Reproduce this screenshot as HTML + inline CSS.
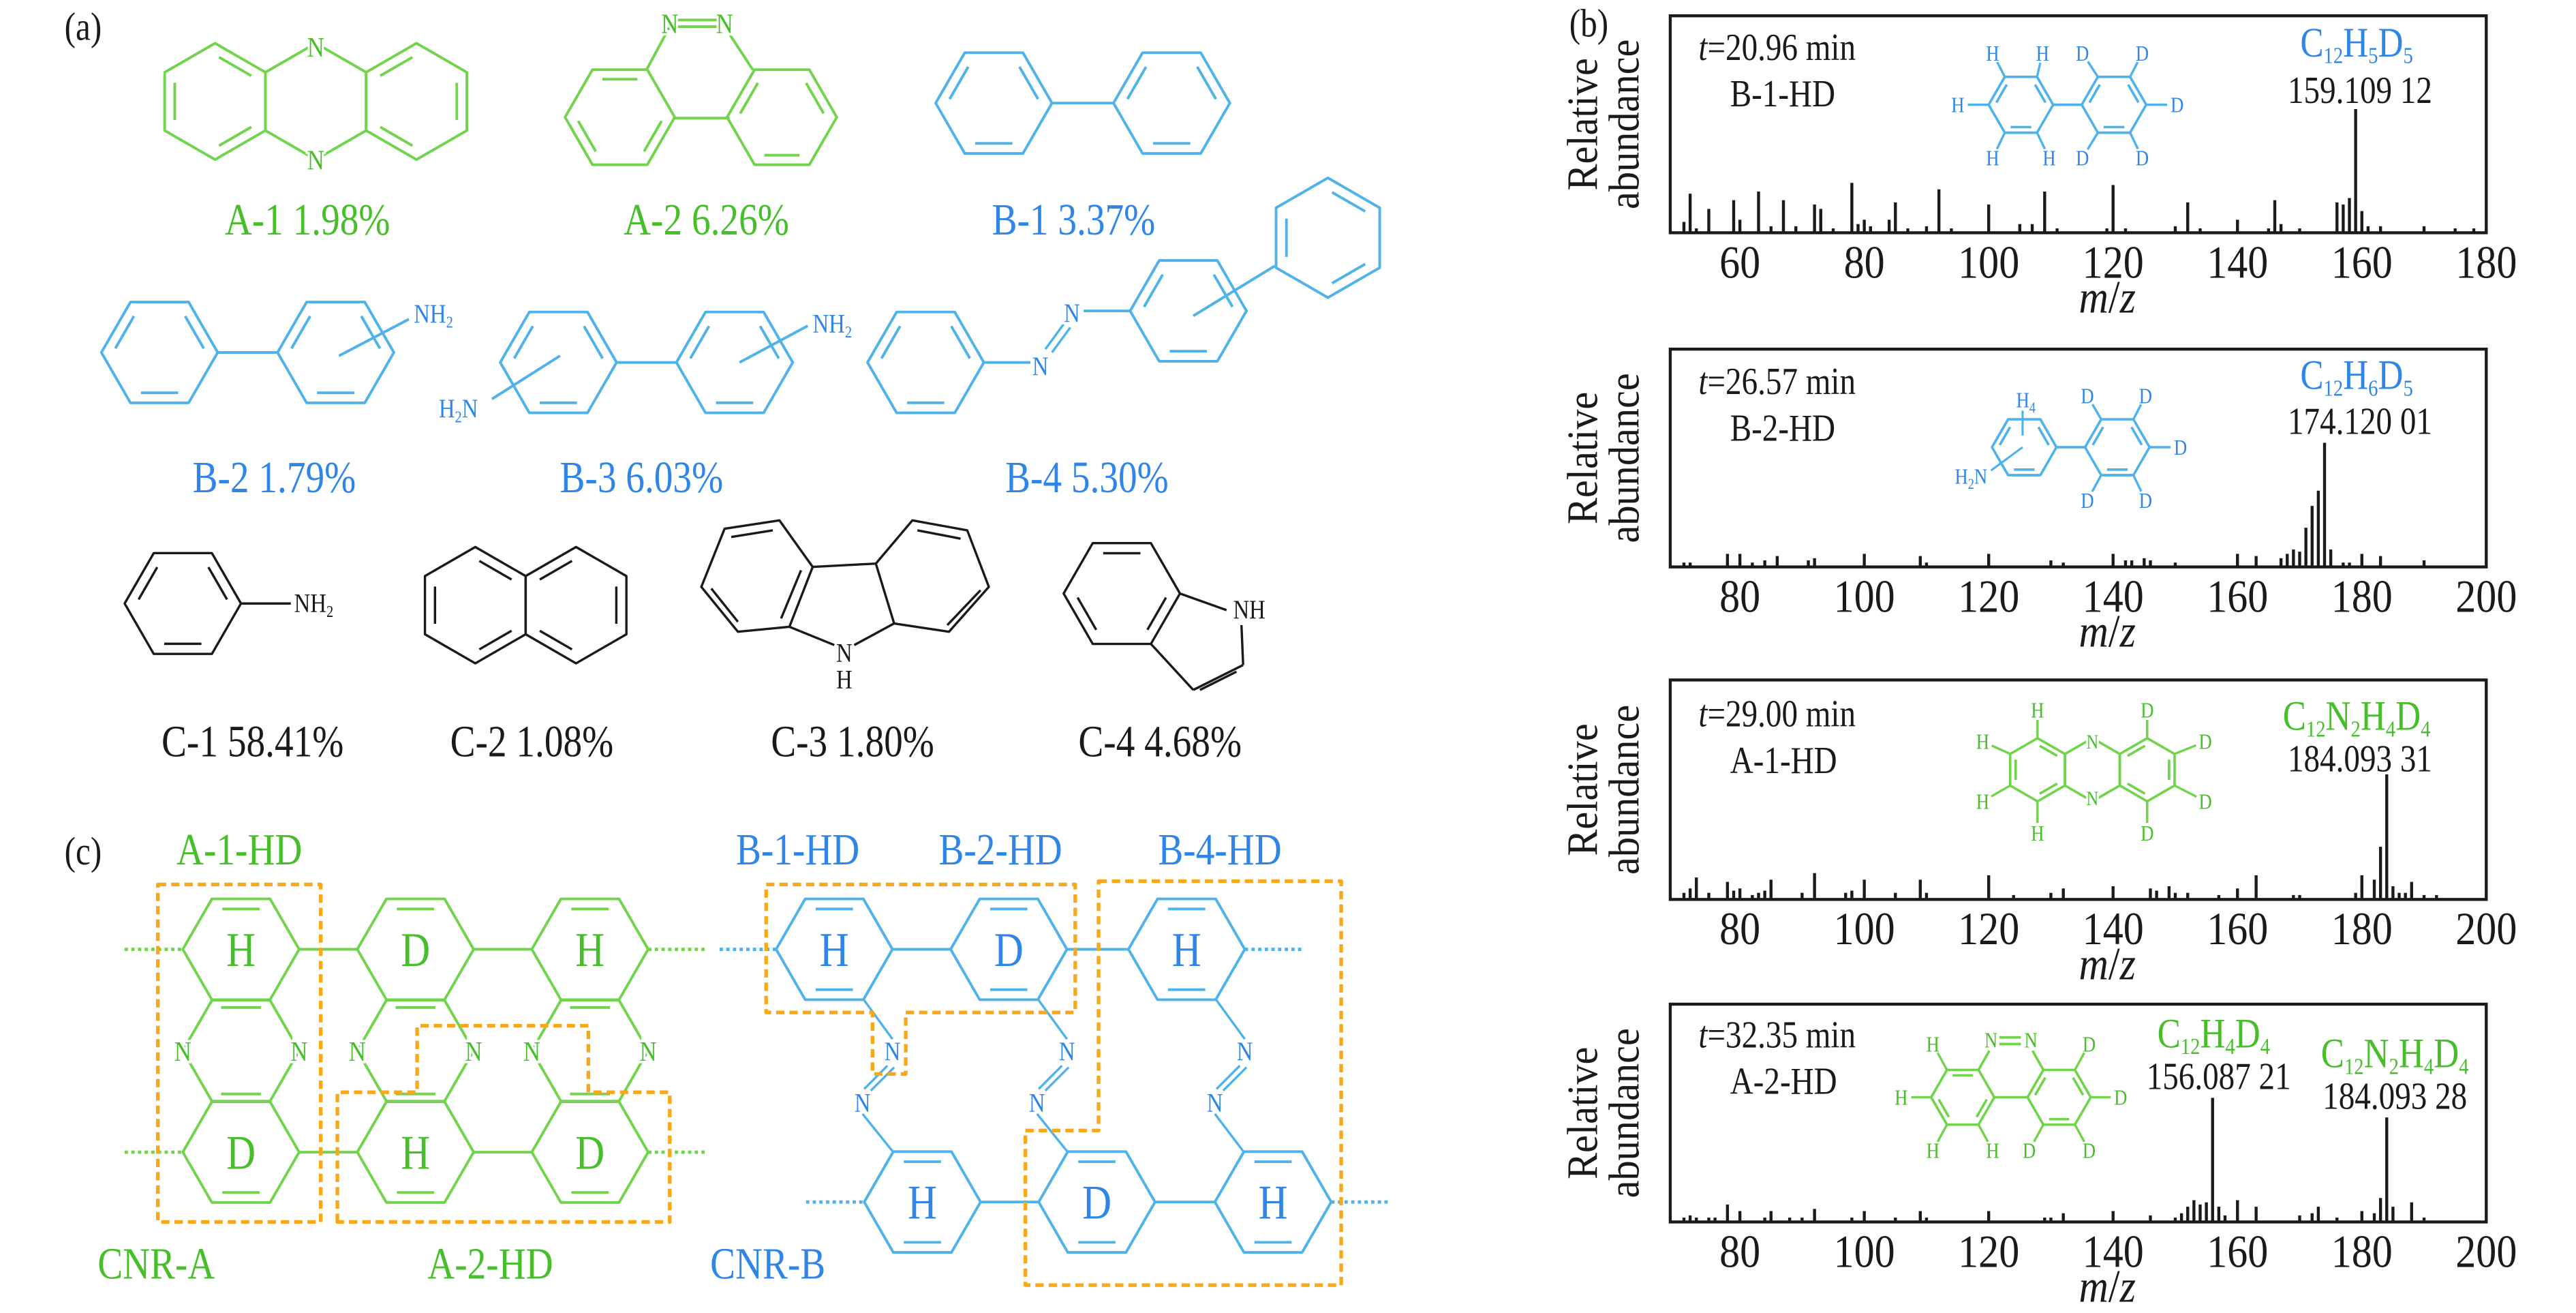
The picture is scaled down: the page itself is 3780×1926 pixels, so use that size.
<!DOCTYPE html>
<html><head><meta charset="utf-8">
<style>
html,body{margin:0;padding:0;background:#fff;}
svg{display:block;}
text{font-family:"Liberation Serif",serif;}
polygon,polyline{fill:none;stroke-linejoin:round;}
line{stroke-linecap:butt;}
</style></head>
<body>
<svg id="fig" xmlns="http://www.w3.org/2000/svg" width="3780" height="1926" viewBox="0 0 1550 789.76" preserveAspectRatio="none"></svg>
<script>
// ---------- spectra data ----------
const mz1 = [51,52,53,55,59,60,63,65,67,69,72,73,75,78,79,80,81,84,85,87,90,92,94,100,105,107,109,111,119,120,122,130,132,134,140,145,146,147,150,156,157,158,159,160,161,163,170,175,178];
const ab1 = [0.05,0.18,0.02,0.11,0.15,0.06,0.19,0.03,0.15,0.03,0.13,0.11,0.02,0.23,0.04,0.06,0.03,0.06,0.14,0.02,0.03,0.20,0.02,0.13,0.04,0.04,0.19,0.02,0.02,0.22,0.02,0.03,0.14,0.02,0.06,0.02,0.15,0.04,0.02,0.14,0.13,0.16,0.57,0.10,0.03,0.03,0.03,0.02,0.02];
const mz2 = [71,72,78,80,82,84,86,91,92,100,109,110,120,130,132,140,142,143,145,146,150,160,163,167,168,169,170,171,172,173,174,175,177,178,180,183,190];
const ab2 = [0.02,0.02,0.06,0.06,0.02,0.03,0.05,0.03,0.04,0.06,0.05,0.02,0.06,0.03,0.02,0.06,0.03,0.03,0.04,0.03,0.02,0.06,0.05,0.04,0.06,0.08,0.07,0.18,0.28,0.35,0.57,0.08,0.02,0.02,0.06,0.05,0.03];
const mz3 = [71,72,73,75,78,79,80,82,83,84,85,90,92,97,98,100,105,109,110,120,124,130,132,140,146,147,149,150,152,157,160,163,169,170,179,180,182,183,184,185,186,187,188,190,192];
const ab3 = [0.03,0.05,0.10,0.03,0.08,0.04,0.05,0.02,0.03,0.04,0.09,0.03,0.12,0.03,0.04,0.09,0.03,0.09,0.03,0.11,0.02,0.03,0.05,0.06,0.05,0.04,0.06,0.03,0.03,0.02,0.05,0.11,0.02,0.02,0.03,0.11,0.09,0.24,0.57,0.06,0.03,0.03,0.08,0.02,0.02];
const mz4 = [71,72,73,75,76,78,80,84,85,88,90,92,98,100,105,109,110,120,129,130,132,140,146,150,151,152,153,154,155,156,157,158,160,163,170,172,173,176,180,182,183,184,185,188,190];
const ab4 = [0.02,0.03,0.02,0.02,0.02,0.08,0.05,0.02,0.05,0.02,0.02,0.06,0.02,0.05,0.02,0.05,0.02,0.05,0.02,0.02,0.04,0.05,0.03,0.02,0.04,0.07,0.10,0.08,0.09,0.57,0.07,0.03,0.10,0.07,0.03,0.04,0.07,0.02,0.05,0.04,0.11,0.48,0.07,0.09,0.02];
const ticks1 = [60,80,100,120,140,160,180];
const ticks2 = [80,100,120,140,160,180,200];

const NS = "http://www.w3.org/2000/svg";
const svg = document.getElementById('fig');
function mk(tag, attrs, parent){
  const e = document.createElementNS(NS, tag);
  for (const k in attrs) e.setAttribute(k, attrs[k]);
  (parent || svg).appendChild(e);
  return e;
}
const GL = "#72d44c", GT = "#47bf2b", BL = "#4fb2e8", BT = "#2f86e6", OR = "#f7a81b", BK = "#1a1a1a";
const SX = 0.84;

function txt(x, y, s, size, color, anchor, name, extra, sx){
  const a = Object.assign({'font-size':size, fill:color, 'text-anchor':anchor||'start'}, extra||{});
  if (!a.transform){ a.transform='translate('+x+','+y+') scale('+(sx||SX)+',1)'; }
  a.x=0; a.y=0;
  const t = mk('text', a);
  t.innerHTML = s;
  
  
  return t;
}
function line(x1,y1,x2,y2,color,w,name,dash){
  const l = mk('line',{x1:x1,y1:y1,x2:x2,y2:y2,stroke:color,'stroke-width':w||1.6});
  if (dash) l.setAttribute('stroke-dasharray', dash);
  
  
  return l;
}
function ringPts(cx,cy,r,flat){
  const p=[];
  for(let k=0;k<6;k++){const a=(flat?0:30)+k*60; p.push([cx+r*Math.cos(a*Math.PI/180), cy+r*Math.sin(a*Math.PI/180)]);}
  return p;
}
function ring(cx,cy,r,flat,color,dbl,name,w){
  const p = ringPts(cx,cy,r,flat);
  const g = mk('polygon',{points:p.map(q=>q.join(',')).join(' '),fill:'none',stroke:color,'stroke-width':w||1.6});
  
  
  (dbl||[]).forEach(i=>{
    const a=p[i], b=p[(i+1)%6];
    const ia=[cx+(a[0]-cx)*0.8, cy+(a[1]-cy)*0.8], ib=[cx+(b[0]-cx)*0.8, cy+(b[1]-cy)*0.8];
    const dx=ib[0]-ia[0], dy=ib[1]-ia[1];
    line(ia[0]+dx*0.1, ia[1]+dy*0.1, ib[0]-dx*0.1, ib[1]-dy*0.1, color, (w||1.6), 'double-bond');
  });
  return p;
}
function poly(pts,color,name,closed,dash,w){
  const e = mk(closed?'polygon':'polyline',{points:pts.map(q=>q.join(',')).join(' '),fill:'none',stroke:color,'stroke-width':w||1.6});
  if(dash) e.setAttribute('stroke-dasharray',dash);
  
  
  return e;
}
function atom(x,y,s,size,color,name){
  return txt(x,y+size*0.35,s,size,color,'middle',name||'atom-label',{stroke:'#fff','stroke-width':3,'paint-order':'stroke',transform:'translate('+x+','+(y+size*0.35)+') scale('+SX+',1)'});
}
// chemical formula: alternating [element, subscript, element, subscript...]
function chem(parts,f,d){
  let s='';
  for(let i=0;i<parts.length;i+=2){
    s += '<tspan dy="'+(i?-(d||4):0)+'">'+parts[i]+'</tspan>';
    if(parts[i+1]) s += '<tspan font-size="'+(f||14)+'" dy="'+(d||4)+'">'+parts[i+1]+'</tspan>';
    else s += '<tspan dy="'+(d||4)+'"></tspan>';
  }
  return s;
}

// ---------- panel (a) ----------
txt(50,24,'(a)',24,BK,'middle','panel-label-a');
{const r=35; const c=[129.4,190,250.6];
 ring(c[0],61,r,false,GL,[0,2,4],'a1-ring-left');
 ring(c[1],61,r,false,GL,[],'a1-ring-middle');
 ring(c[2],61,r,false,GL,[1,3,5],'a1-ring-right');
 atom(190,28,'N',17,GT,'a1-n-top'); atom(190,96,'N',17,GT,'a1-n-bottom');}
txt(185,141,'A-1 1.98%',27,GT,'middle','label-a1');
ring(373,70.5,33,true,GL,[0,2,4],'a2-ring-left');
ring(470.5,70.5,33,true,GL,[1,3,5],'a2-ring-right');
poly([[389,42],[403,16]],GL,'a2-bond');
poly([[453,42],[436,16]],GL,'a2-bond');
line(407,12,432,12,GL,1.6,'a2-nn-bond'); line(407,16,432,16,GL,1.6,'a2-nn-bond');
line(406,71,439,71,GL,1.6,'a2-bond');
atom(403,14,'N',17,GT,'a2-n1'); atom(436,14,'N',17,GT,'a2-n2');
txt(425,141,'A-2 6.26%',27,GT,'middle','label-a2');
ring(598,62,35,true,BL,[1,3,5],'b1-ring-left'); ring(705,62,35,true,BL,[1,3,5],'b1-ring-right');
line(633,62,670,62,BL,1.6,'b1-bond');
txt(646,141,'B-1 3.37%',27,BT,'middle','label-b1');
ring(96,212,35,true,BL,[1,3,5],'b2-ring-left'); ring(202,212,35,true,BL,[1,3,5],'b2-ring-right');
line(131,212,167,212,BL,1.6,'b2-bond'); line(204,214,246,192,BL,1.6,'b2-nh2-bond');
txt(249,194,chem(['NH','2'],10,3),16,BT,'start','b2-nh2');
txt(165,296,'B-2 1.79%',27,BT,'middle','label-b2');
ring(336,218,35,true,BL,[1,3,5],'b3-ring-left'); ring(442,218,35,true,BL,[1,3,5],'b3-ring-right');
line(371,218,407,218,BL,1.6,'b3-bond'); line(445,218,486,196,BL,1.6,'b3-nh2-bond'); line(337,214,296,240,BL,1.6,'b3-nh2-bond');
txt(489,200,chem(['NH','2'],10,3),16,BT,'start','b3-nh2-right');
txt(264,251,chem(['H','2','N',''],10,3),16,BT,'start','b3-nh2-left');
txt(386,296,'B-3 6.03%',27,BT,'middle','label-b3');
ring(557,218,35,true,BL,[1,3,5],'b4-ring-left');
ring(715,187,35,true,BL,[1,3,5],'b4-ring-middle');
ring(799,143,36,false,BL,[0,2,4],'b4-ring-right');
line(592,218,620,218,BL,1.6,'b4-bond'); line(652,187,680,187,BL,1.6,'b4-bond');
line(629,210,640,195,BL,1.4,'b4-nn-bond'); line(633,212,644,197,BL,1.4,'b4-nn-bond');
line(718,190,767,160,BL,1.6,'b4-bond');
atom(626,220,'N',16,BT,'b4-n1'); atom(645,188,'N',16,BT,'b4-n2');
txt(654,296,'B-4 5.30%',27,BT,'middle','label-b4');
ring(110,363,35,true,BK,[1,3,5],'c1-ring',1.4); line(145,363,175,363,BK,1.4,'c1-nh2-bond');
txt(177,368,chem(['NH','2'],10,3),16,BK,'start','c1-nh2');
txt(152,455,'C-1 58.41%',27,BK,'middle','label-c1');
ring(286,364,35,false,BK,[0,2,4],'c2-ring-left',1.4); ring(346.6,364,35,false,BK,[1,3,5],'c2-ring-right',1.4);
txt(320,455,'C-2 1.08%',27,BK,'middle','label-c2');
poly([[436,318],[469,313],[489,341],[475,377],[444,380],[422,353]],BK,'c3-ring-left',true,null,1.4);
poly([[549,313],[582,319],[595,353],[571,380],[538,375],[527,339]],BK,'c3-ring-right',true,null,1.4);
line(489,341,527,339,BK,1.4,'c3-bond');
line(538,375,514,388,BK,1.4,'c3-bond'); line(475,377,502,388,BK,1.4,'c3-bond');
line(440,323,465,319,BK,1.4,'double-bond'); line(428,354,444,374,BK,1.4,'double-bond'); line(482,343,470,372,BK,1.4,'double-bond');
line(552,319,578,324,BK,1.4,'double-bond'); line(590,355,570,376,BK,1.4,'double-bond');
txt(508,398,'N',16,BK,'middle','c3-n'); txt(508,414,'H',16,BK,'middle','c3-h');
txt(513,455,'C-3 1.80%',27,BK,'middle','label-c3');
ring(675,357,35,true,BK,[0,2,4],'c4-ring',1.4);
line(710,357,738,367,BK,1.4,'c4-bond');
line(747,376,748,400,BK,1.4,'c4-bond'); line(748,400,718,415,BK,1.4,'c4-bond'); line(718,415,692.5,387.3,BK,1.4,'c4-bond');
line(744,404,722,415,BK,1.4,'double-bond');
txt(742,372,'NH',16,BK,'start','c4-nh');
txt(698,455,'C-4 4.68%',27,BK,'middle','label-c4');

// ---------- panel (c) ----------
txt(50,520,'(c)',24,BK,'middle','panel-label-c');
txt(144,520,'A-1-HD',27,GT,'middle','label-a1-hd');
txt(480,520,'B-1-HD',27,BT,'middle','label-b1-hd');
txt(602,520,'B-2-HD',27,BT,'middle','label-b2-hd');
txt(734,520,'B-4-HD',27,BT,'middle','label-b4-hd');
txt(94,769,'CNR-A',27,GT,'middle','label-cnr-a');
txt(295,769,'A-2-HD',27,GT,'middle','label-a2-hd');
txt(462,769,'CNR-B',27,BT,'middle','label-cnr-b');
{const cols=[145,250,355], ys=[571,632,693], up=['H','D','H'], lo=['D','H','D'];
 cols.forEach((x,i)=>{
   ring(x,ys[0],35,true,GL,[4],'cnr-a-ring-top');
   ring(x,ys[1],35,true,GL,[],'cnr-a-ring-mid');
   ring(x,ys[2],35,true,GL,[1],'cnr-a-ring-bottom');
   line(x-12,606,x+12,606,GL,1.6,'double-bond'); line(x-12,658,x+12,658,GL,1.6,'double-bond');
   atom(x-35,ys[1],'N',17,GT,'cnr-a-n'); atom(x+35,ys[1],'N',17,GT,'cnr-a-n');
   txt(x,ys[0]+10,up[i],29,GT,'middle','ring-label');
   txt(x,ys[2]+10,lo[i],29,GT,'middle','ring-label');
 });
 [[180,215],[285,320]].forEach(b=>{line(b[0],571,b[1],571,GL,1.6,'cnr-a-bond');line(b[0],693,b[1],693,GL,1.6,'cnr-a-bond');});
 [[75,110],[390,425]].forEach(b=>{line(b[0],571,b[1],571,GL,2,'dotted-extension','2 2');line(b[0],693,b[1],693,GL,2,'dotted-extension','2 2');});
}
{const up=[502,607,714], lo=[555,660,766], ul=['H','D','H'], ll=['H','D','H'];
 up.forEach((x,i)=>{
   ring(x,571,35,true,BL,[1,4],'cnr-b-ring-top'); txt(x,581,ul[i],29,BT,'middle','ring-label');
   ring(lo[i],723,35,true,BL,[1,4],'cnr-b-ring-bottom'); txt(lo[i],733,ll[i],29,BT,'middle','ring-label');
   const n1x=x+35, n2x=x+17;
   line(x+17.5,601,n1x,625,BL,1.4,'azo-bond');
   line(n1x-3,641,n2x+1,655,BL,1.4,'azo-bond'); line(n1x+1,642,n2x+5,656,BL,1.4,'azo-bond');
   line(n2x,670,lo[i]-17.5,693,BL,1.4,'azo-bond');
   atom(n1x,632,'N',16,BT,'azo-n'); atom(n2x,663,'N',16,BT,'azo-n');
 });
 line(537,571,572,571,BL,1.6,'cnr-b-bond'); line(642,571,679,571,BL,1.6,'cnr-b-bond');
 line(590,723,625,723,BL,1.6,'cnr-b-bond'); line(695,723,731,723,BL,1.6,'cnr-b-bond');
 line(433,571,467,571,BL,2,'dotted-extension','2 2'); line(749,571,783,571,BL,2,'dotted-extension','2 2');
 line(485,723,520,723,BL,2,'dotted-extension','2 2'); line(801,723,835,723,BL,2,'dotted-extension','2 2');
}
const dash='5 3';
poly([[95,532],[193,532],[193,735],[95,735]],OR,'box-a1-hd',true,dash,2.2);
poly([[203,735],[203,657],[251,657],[251,617],[354,617],[354,657],[403,657],[403,735]],OR,'box-a2-hd',true,dash,2.2);
poly([[461,532],[647,532],[647,609],[545,609],[545,646],[525,646],[525,609],[461,609]],OR,'box-b1-b2-hd',true,dash,2.2);
poly([[661,530],[807,530],[807,773],[617,773],[617,680],[661,680]],OR,'box-b4-hd',true,dash,2.2);

// ---------- panel (b) spectra ----------
txt(956,22,'(b)',24,BK,'middle','panel-label-b');
const X0=1005, X1=1496;
const panels=[
 {top:9.5,bot:140,lo:48.8,hi:180,mz:mz1,ab:ab1,ticks:ticks1,name:'b1'},
 {top:210,bot:341,lo:68.8,hi:200,mz:mz2,ab:ab2,ticks:ticks2,name:'b2'},
 {top:409,bot:541,lo:68.8,hi:200,mz:mz3,ab:ab3,ticks:ticks2,name:'a1'},
 {top:604,bot:735,lo:68.8,hi:200,mz:mz4,ab:ab4,ticks:ticks2,name:'a2'}];
panels.forEach(P=>{
  const xs = v => X0 + (v-P.lo)/(P.hi-P.lo)*(X1-X0);
  const ys = v => P.bot - v*(P.bot-P.top);
  for(let i=0;i<P.mz.length;i++){
    const b = mk('line',{x1:xs(P.mz[i]),x2:xs(P.mz[i]),y1:P.bot,y2:ys(P.ab[i]),stroke:BK,'stroke-width':1.8});
    
    
  }
  const fr = mk('rect',{x:X0,y:P.top,width:X1-X0,height:P.bot-P.top,fill:'none',stroke:BK,'stroke-width':1.8});
  
  
  P.ticks.forEach(t=>{ txt(xs(t),P.bot+27,String(t),28,BK,'middle','x-tick-label',null,0.88); });
  txt(1268,P.bot+48,'<tspan font-style="italic">m</tspan>/<tspan font-style="italic">z</tspan>',28,BK,'middle','x-axis-title',null,0.88);
  const cy=(P.top+P.bot)/2;
  txt(0,0,'Relative',26,BK,'middle','y-axis-title',{transform:'translate(961,'+cy+') rotate(-90) scale(0.92,1)'});
  txt(0,0,'abundance',26,BK,'middle','y-axis-title',{transform:'translate(986,'+cy+') rotate(-90) scale(0.92,1)'});
});
txt(1022,36,'<tspan font-style="italic">t</tspan>=20.96 min',23,BK,'start','retention-time-b1');
txt(1041,64,'B-1-HD',23,BK,'start','compound-b1-hd');
txt(1418,34,chem(['C','12','H','5','D','5']),25,BT,'middle','formula-b1');
txt(1420,62,'159.109 12',23,BK,'middle','mass-b1');
txt(1022,237,'<tspan font-style="italic">t</tspan>=26.57 min',23,BK,'start','retention-time-b2');
txt(1041,265,'B-2-HD',23,BK,'start','compound-b2-hd');
txt(1418,234,chem(['C','12','H','6','D','5']),25,BT,'middle','formula-b2');
txt(1420,261,'174.120 01',23,BK,'middle','mass-b2');
txt(1022,437,'<tspan font-style="italic">t</tspan>=29.00 min',23,BK,'start','retention-time-a1');
txt(1041,465,'A-1-HD',23,BK,'start','compound-a1-hd');
txt(1418,439,chem(['C','12','N','2','H','4','D','4']),25,GT,'middle','formula-a1');
txt(1420,464,'184.093 31',23,BK,'middle','mass-a1');
txt(1022,630,'<tspan font-style="italic">t</tspan>=32.35 min',23,BK,'start','retention-time-a2');
txt(1041,658,'A-2-HD',23,BK,'start','compound-a2-hd');
txt(1332,630,chem(['C','12','H','4','D','4']),25,GT,'middle','formula-a2-fragment');
txt(1335,655,'156.087 21',23,BK,'middle','mass-a2-fragment');
txt(1441,642,chem(['C','12','N','2','H','4','D','4']),25,GT,'middle','formula-a2');
txt(1441,667,'184.093 28',23,BK,'middle','mass-a2');

// structures in spectra (labels with stub bonds from nearest ring vertex)
function lab(list,color,lcolor,rings){
  list.forEach(a=>{
    let best=null, bd=1e9;
    rings.forEach(R=>R.forEach(v=>{const d=(v[0]-a[0])**2+(v[1]-a[1])**2; if(d<bd){bd=d;best=v;}}));
    if(best && Math.sqrt(bd)>8){
      const f=1-6/Math.sqrt(bd);
      line(best[0],best[1],best[0]+(a[0]-best[0])*f,best[1]+(a[1]-best[1])*f,lcolor,1.4,'isotope-bond');
    }
    txt(a[0],a[1]+4.5,a[2],13,color,'middle','isotope-label');
  });
}
{const r1=ring(1216,63,19.4,true,BL,[1,3,5],'b1-hd-ring-h',1.5), r2=ring(1272,63,19.4,true,BL,[1,3,5],'b1-hd-ring-d',1.5);
 line(1235.4,63,1252.6,63,BL,1.5,'bond');
 lab([[1199,32,'H'],[1229,32,'H'],[1253,32,'D'],[1289,32,'D'],[1178,63,'H'],[1310,63,'D'],[1199,95,'H'],[1233,95,'H'],[1253,95,'D'],[1289,95,'D']],BT,BL,[r1,r2]);}
{const r1=ring(1218,269,19.4,true,BL,[1,3,5],'b2-hd-ring-h',1.5), r2=ring(1274,269,19.4,true,BL,[1,3,5],'b2-hd-ring-d',1.5);
 line(1237.4,269,1254.6,269,BL,1.5,'bond'); line(1217,262,1217,247,BL,1.3,'bond'); line(1217,269,1198,283,BL,1.3,'bond');
 lab([[1256,238,'D'],[1291,238,'D'],[1312,269,'D'],[1256,301,'D'],[1291,301,'D']],BT,BL,[r2]);
 txt(1219,245,chem(['H','4'],9,3),13,BT,'middle','isotope-label');
 txt(1186,291,chem(['H','2','N',''],9,3),13,BT,'middle','isotope-label');}
{const r1=ring(1226,463,19,false,GL,[0,2,4],'a1-hd-ring-h',1.5), r2=ring(1259,463,19,false,GL,[],'a1-hd-ring-n',1.5), r3=ring(1292,463,19,false,GL,[1,3,5],'a1-hd-ring-d',1.5);
 atom(1259,446,'N',12,GT,'n'); atom(1259,480,'N',12,GT,'n');
 lab([[1226,427,'H'],[1292,427,'D'],[1193,446,'H'],[1327,446,'D'],[1193,482,'H'],[1327,482,'D'],[1226,501,'H'],[1292,501,'D']],GT,GL,[r1,r3]);}
{const r1=ring(1181,660,19,true,GL,[0,2,4],'a2-hd-ring-h',1.5), r2=ring(1239,660,19,true,GL,[1,3,5],'a2-hd-ring-d',1.5);
 line(1200,660,1220,660,GL,1.5,'bond');
 line(1190.5,643.5,1197,632,GL,1.5,'bond'); line(1229.5,643.5,1223,632,GL,1.5,'bond');
 line(1203,624,1216,624,GL,1.5,'nn-bond'); line(1203,628,1216,628,GL,1.5,'nn-bond');
 txt(1198,630,'N',13,GT,'middle','isotope-label'); txt(1222,630,'N',13,GT,'middle','isotope-label');
 lab([[1163,628,'H'],[1257,628,'D'],[1144,660,'H'],[1276,660,'D'],[1163,692,'H'],[1199,692,'H'],[1221,692,'D'],[1257,692,'D']],GT,GL,[r1,r2]);}
</script>
</body></html>
